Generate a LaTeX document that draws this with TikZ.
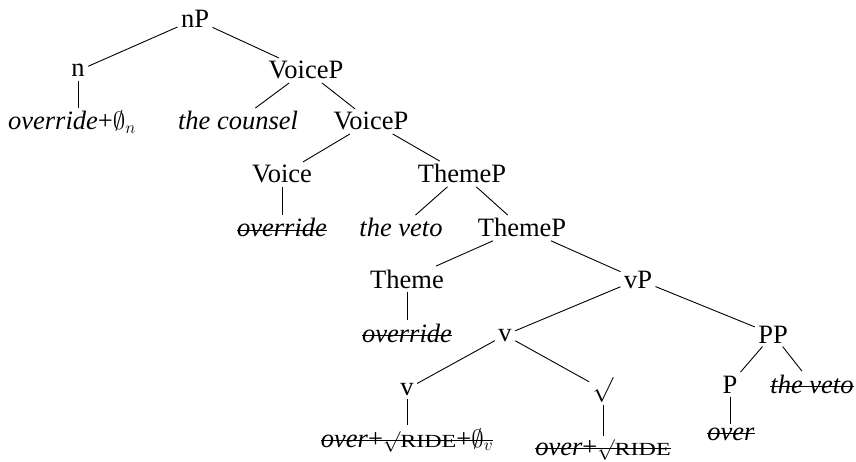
\documentclass[tikz,border=0pt]{standalone}
\usepackage{fontspec}
\usepackage{graphicx}
\setmainfont{Liberation Serif}
\newsavebox\strikebox
% text with a horizontal line drawn through it
\newcommand\struck[1]{\sbox\strikebox{#1}\rlap{\rule[0.23em]{\wd\strikebox}{0.045em}}\usebox\strikebox}
% small capitals for the root name
\newcommand\rootname[1]{\scalebox{1.3}[1]{\fontsize{18.5}{22}\selectfont #1}}
% radical sign inside running text (\surd sits centred on the math axis)
\newcommand\rootsign{{\fontsize{22}{24}\selectfont$\surd$}}
\begin{document}
\begin{tikzpicture}[x=1pt,y=-1pt,
  every node/.style={anchor=base,font=\fontsize{26.5}{31}\selectfont},
  branch/.style={line width=0.9pt}]
\useasboundingbox (0,0) rectangle (856,462);
% nodes, placed by baseline
\node (nP)      at (195,28)  {nP};
\node (n)       at (78,77)   {n};
\node (vcP)     at (306,79)  {VoiceP};
\node (ovn)     at (72,130)  {\textit{override}+$\emptyset_n$};
\node (counsel) at (238,130) {\textit{the counsel}};
\node (vcPb)    at (371,130) {VoiceP};
\node (voice)   at (282,183) {Voice};
\node (thP)     at (462,183) {ThemeP};
\node (ovV)     at (282,237) {\struck{\textit{override}}};
\node (vetoA)   at (401,237) {\textit{the veto}};
\node (thPb)    at (522,237) {ThemeP};
\node (theme)   at (407,288) {Theme};
\node (ovT)     at (407,342) {\struck{\textit{override}}};
\node (vP)      at (638,288) {vP};
\node (vA)      at (505,341) {v};
\node (PP)      at (773,343) {PP};
\node (vB)      at (407,395) {v};
\node[anchor=center,font=\fontsize{25}{28}\selectfont] (rt) at (603,389.5) {$\surd$};
\node (P)       at (730,393) {P};
\node (vetoB)   at (812,393) {\struck{\textit{the veto}}};
\node (leafv)   at (407,447) {\struck{\textit{over}+\rootsign\rootname{RIDE}+$\emptyset_v$}};
\node (leafrt)  at (603,455) {\struck{\textit{over}+\rootsign\rootname{RIDE}}};
\node (over)    at (731,440) {\struck{\textit{over}}};
% branches
\draw[branch] (nP) -- (n);
\draw[branch] (nP) -- (vcP);
\draw[branch] (n) -- (n |- ovn.north);
\draw[branch] (vcP) -- (counsel);
\draw[branch] (vcP) -- (vcPb);
\draw[branch] (vcPb) -- (voice);
\draw[branch] (vcPb) -- (thP);
\draw[branch] (voice) -- (voice |- ovV.north);
\draw[branch] (thP) -- (vetoA);
\draw[branch] (thP) -- (thPb);
\draw[branch] (thPb) -- (theme);
\draw[branch] (thPb) -- (vP);
\draw[branch] (theme) -- (theme |- ovT.north);
\draw[branch] (vP) -- (vA);
\draw[branch] (vP) -- (PP);
\draw[branch] (vA) -- (vB);
\draw[branch] (vA) -- (rt);
\draw[branch] (PP) -- (P);
\draw[branch] (PP) -- (vetoB);
\draw[branch] (vB) -- (vB |- leafv.north);
\draw[branch] (rt) -- (rt |- leafrt.north);
\draw[branch] (P) -- (P |- over.north);
\end{tikzpicture}
\end{document}
